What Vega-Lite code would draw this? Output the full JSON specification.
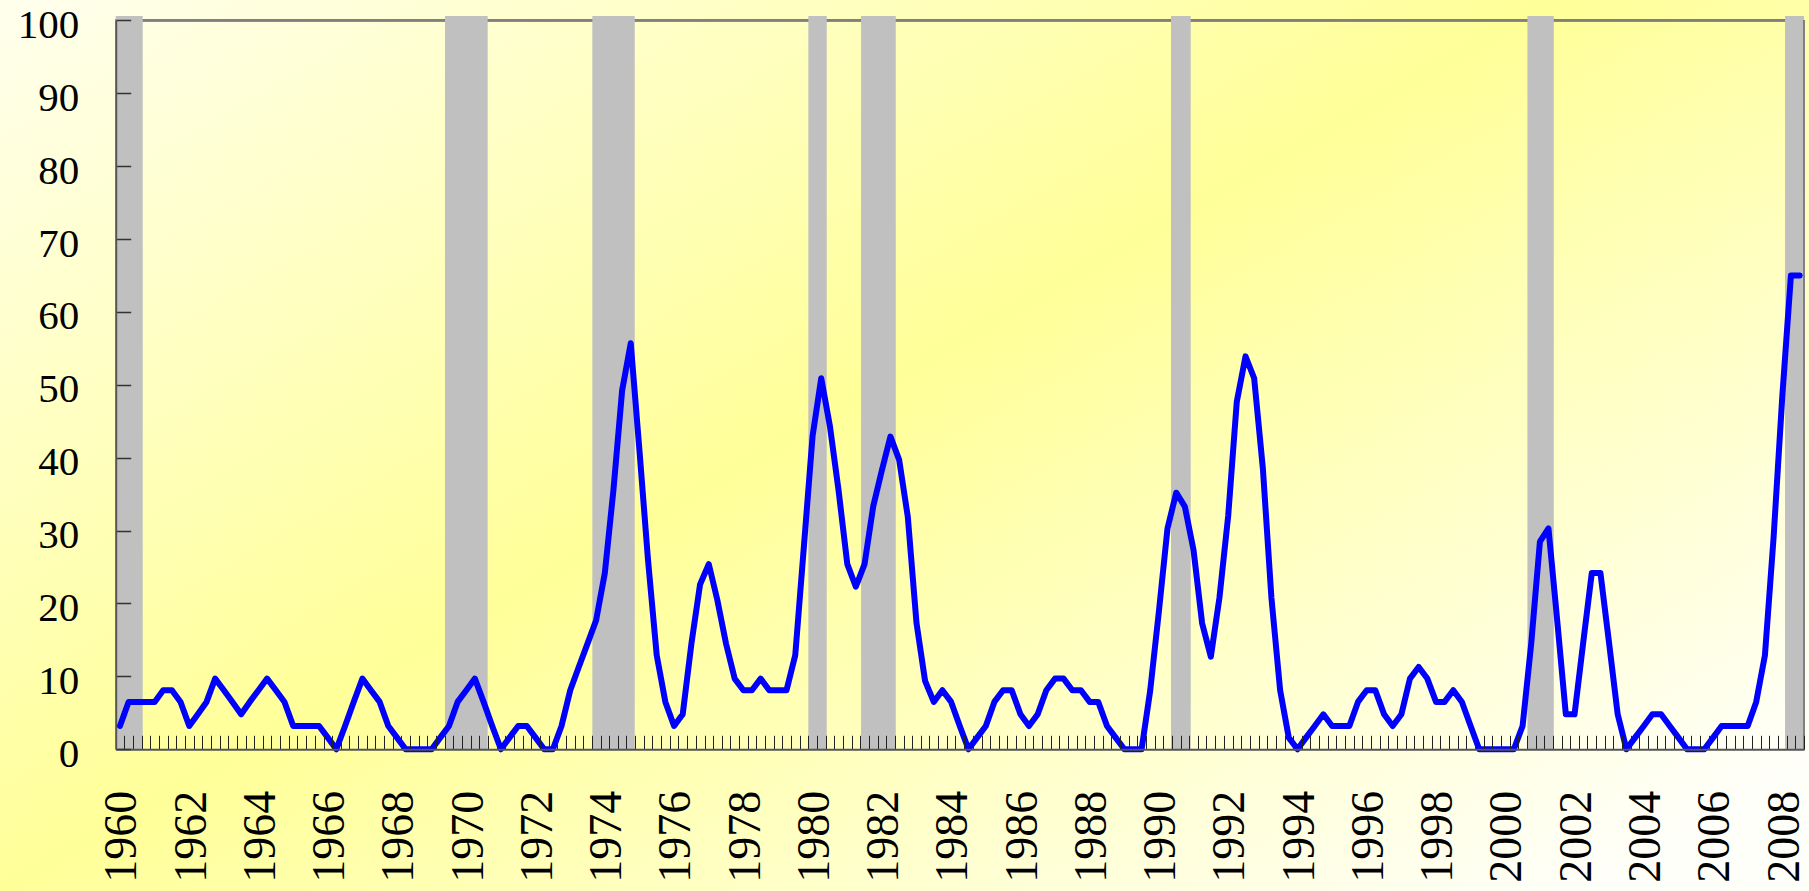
{
  "$schema": "https://vega.github.io/schema/vega-lite/v6.json",
  "width": 1809,
  "height": 891,
  "padding": 0,
  "autosize": {"type": "none"},
  "background": "#FFFFFF",
  "config": {
    "font": "Liberation Serif",
    "view": {
      "stroke": null,
      "fill": {
        "gradient": "linear",
        "x1": 0, "y1": 0, "x2": 1, "y2": 0.86,
        "stops": [
          {"offset": 0, "color": "#FFFFEE"},
          {"offset": 0.494, "color": "#FFFF99"},
          {"offset": 1, "color": "#FFFFFA"}
        ]
      }
    }
  },
  "datasets": {
    "recessions": [
      {"start": "1960-01-01", "end": "1960-10-12"},
      {"start": "1969-07-05", "end": "1970-09-28"},
      {"start": "1973-10-06", "end": "1974-12-27"},
      {"start": "1980-01-01", "end": "1980-07-13"},
      {"start": "1981-07-10", "end": "1982-07-11"},
      {"start": "1990-06-22", "end": "1991-01-16"},
      {"start": "2000-10-06", "end": "2001-07-11"},
      {"start": "2008-03-15", "end": "2008-10-01"}
    ],
    "series": [
      {"date": "1960-02-15", "pct": 3.2}, {"date": "1960-05-16", "pct": 6.5}, {"date": "1960-08-16", "pct": 6.5}, {"date": "1960-11-15", "pct": 6.5},
      {"date": "1961-02-15", "pct": 6.5}, {"date": "1961-05-16", "pct": 8.1}, {"date": "1961-08-16", "pct": 8.1}, {"date": "1961-11-15", "pct": 6.5},
      {"date": "1962-02-15", "pct": 3.2}, {"date": "1962-05-16", "pct": 4.8}, {"date": "1962-08-16", "pct": 6.5}, {"date": "1962-11-15", "pct": 9.7},
      {"date": "1963-02-15", "pct": 8.1}, {"date": "1963-05-16", "pct": 6.5}, {"date": "1963-08-16", "pct": 4.8}, {"date": "1963-11-15", "pct": 6.5},
      {"date": "1964-02-15", "pct": 8.1}, {"date": "1964-05-16", "pct": 9.7}, {"date": "1964-08-16", "pct": 8.1}, {"date": "1964-11-15", "pct": 6.5},
      {"date": "1965-02-15", "pct": 3.2}, {"date": "1965-05-16", "pct": 3.2}, {"date": "1965-08-16", "pct": 3.2}, {"date": "1965-11-15", "pct": 3.2},
      {"date": "1966-02-15", "pct": 1.6}, {"date": "1966-05-16", "pct": 0}, {"date": "1966-08-16", "pct": 3.2}, {"date": "1966-11-15", "pct": 6.5},
      {"date": "1967-02-15", "pct": 9.7}, {"date": "1967-05-16", "pct": 8.1}, {"date": "1967-08-16", "pct": 6.5}, {"date": "1967-11-15", "pct": 3.2},
      {"date": "1968-02-15", "pct": 1.6}, {"date": "1968-05-16", "pct": 0}, {"date": "1968-08-16", "pct": 0}, {"date": "1968-11-15", "pct": 0},
      {"date": "1969-02-15", "pct": 0}, {"date": "1969-05-16", "pct": 1.6}, {"date": "1969-08-16", "pct": 3.2}, {"date": "1969-11-15", "pct": 6.5},
      {"date": "1970-02-15", "pct": 8.1}, {"date": "1970-05-16", "pct": 9.7}, {"date": "1970-08-16", "pct": 6.5}, {"date": "1970-11-15", "pct": 3.2},
      {"date": "1971-02-15", "pct": 0}, {"date": "1971-05-16", "pct": 1.6}, {"date": "1971-08-16", "pct": 3.2}, {"date": "1971-11-15", "pct": 3.2},
      {"date": "1972-02-15", "pct": 1.6}, {"date": "1972-05-16", "pct": 0}, {"date": "1972-08-16", "pct": 0}, {"date": "1972-11-15", "pct": 3.2},
      {"date": "1973-02-15", "pct": 8.1}, {"date": "1973-05-16", "pct": 11.3}, {"date": "1973-08-16", "pct": 14.5}, {"date": "1973-11-15", "pct": 17.7},
      {"date": "1974-02-15", "pct": 24.2}, {"date": "1974-05-16", "pct": 35.5}, {"date": "1974-08-16", "pct": 49.2}, {"date": "1974-11-15", "pct": 55.7},
      {"date": "1975-02-15", "pct": 41.0}, {"date": "1975-05-16", "pct": 26.0}, {"date": "1975-08-16", "pct": 12.9}, {"date": "1975-11-15", "pct": 6.5},
      {"date": "1976-02-15", "pct": 3.2}, {"date": "1976-05-16", "pct": 4.8}, {"date": "1976-08-16", "pct": 14.5}, {"date": "1976-11-15", "pct": 22.6},
      {"date": "1977-02-15", "pct": 25.4}, {"date": "1977-05-16", "pct": 20.5}, {"date": "1977-08-16", "pct": 14.5}, {"date": "1977-11-15", "pct": 9.7},
      {"date": "1978-02-15", "pct": 8.1}, {"date": "1978-05-16", "pct": 8.1}, {"date": "1978-08-16", "pct": 9.7}, {"date": "1978-11-15", "pct": 8.1},
      {"date": "1979-02-15", "pct": 8.1}, {"date": "1979-05-16", "pct": 8.1}, {"date": "1979-08-16", "pct": 12.9}, {"date": "1979-11-15", "pct": 27.8},
      {"date": "1980-02-15", "pct": 43.0}, {"date": "1980-05-16", "pct": 50.9}, {"date": "1980-08-16", "pct": 44.3}, {"date": "1980-11-15", "pct": 35.5},
      {"date": "1981-02-15", "pct": 25.4}, {"date": "1981-05-16", "pct": 22.3}, {"date": "1981-08-16", "pct": 25.4}, {"date": "1981-11-15", "pct": 33.3},
      {"date": "1982-02-15", "pct": 38.3}, {"date": "1982-05-16", "pct": 42.9}, {"date": "1982-08-16", "pct": 39.7}, {"date": "1982-11-15", "pct": 31.9},
      {"date": "1983-02-15", "pct": 17.3}, {"date": "1983-05-16", "pct": 9.4}, {"date": "1983-08-16", "pct": 6.5}, {"date": "1983-11-15", "pct": 8.1},
      {"date": "1984-02-15", "pct": 6.5}, {"date": "1984-05-16", "pct": 3.2}, {"date": "1984-08-16", "pct": 0}, {"date": "1984-11-15", "pct": 1.6},
      {"date": "1985-02-15", "pct": 3.2}, {"date": "1985-05-16", "pct": 6.5}, {"date": "1985-08-16", "pct": 8.1}, {"date": "1985-11-15", "pct": 8.1},
      {"date": "1986-02-15", "pct": 4.8}, {"date": "1986-05-16", "pct": 3.2}, {"date": "1986-08-16", "pct": 4.8}, {"date": "1986-11-15", "pct": 8.1},
      {"date": "1987-02-15", "pct": 9.7}, {"date": "1987-05-16", "pct": 9.7}, {"date": "1987-08-16", "pct": 8.1}, {"date": "1987-11-15", "pct": 8.1},
      {"date": "1988-02-15", "pct": 6.5}, {"date": "1988-05-16", "pct": 6.5}, {"date": "1988-08-16", "pct": 3.2}, {"date": "1988-11-15", "pct": 1.6},
      {"date": "1989-02-15", "pct": 0}, {"date": "1989-05-16", "pct": 0}, {"date": "1989-08-16", "pct": 0}, {"date": "1989-11-15", "pct": 8.1},
      {"date": "1990-02-15", "pct": 19.0}, {"date": "1990-05-16", "pct": 30.3}, {"date": "1990-08-16", "pct": 35.2}, {"date": "1990-11-15", "pct": 33.3},
      {"date": "1991-02-15", "pct": 27.3}, {"date": "1991-05-16", "pct": 17.3}, {"date": "1991-08-16", "pct": 12.7}, {"date": "1991-11-15", "pct": 20.8},
      {"date": "1992-02-15", "pct": 32.0}, {"date": "1992-05-16", "pct": 47.7}, {"date": "1992-08-16", "pct": 53.9}, {"date": "1992-11-15", "pct": 50.9},
      {"date": "1993-02-15", "pct": 38.5}, {"date": "1993-05-16", "pct": 20.8}, {"date": "1993-08-16", "pct": 8.1}, {"date": "1993-11-15", "pct": 1.6},
      {"date": "1994-02-15", "pct": 0}, {"date": "1994-05-16", "pct": 1.6}, {"date": "1994-08-16", "pct": 3.2}, {"date": "1994-11-15", "pct": 4.8},
      {"date": "1995-02-15", "pct": 3.2}, {"date": "1995-05-16", "pct": 3.2}, {"date": "1995-08-16", "pct": 3.2}, {"date": "1995-11-15", "pct": 6.5},
      {"date": "1996-02-15", "pct": 8.1}, {"date": "1996-05-16", "pct": 8.1}, {"date": "1996-08-16", "pct": 4.8}, {"date": "1996-11-15", "pct": 3.2},
      {"date": "1997-02-15", "pct": 4.8}, {"date": "1997-05-16", "pct": 9.7}, {"date": "1997-08-16", "pct": 11.3}, {"date": "1997-11-15", "pct": 9.7},
      {"date": "1998-02-15", "pct": 6.5}, {"date": "1998-05-16", "pct": 6.5}, {"date": "1998-08-16", "pct": 8.1}, {"date": "1998-11-15", "pct": 6.5},
      {"date": "1999-02-15", "pct": 3.2}, {"date": "1999-05-16", "pct": 0}, {"date": "1999-08-16", "pct": 0}, {"date": "1999-11-15", "pct": 0},
      {"date": "2000-02-15", "pct": 0}, {"date": "2000-05-16", "pct": 0}, {"date": "2000-08-16", "pct": 3.2}, {"date": "2000-11-15", "pct": 14.5},
      {"date": "2001-02-15", "pct": 28.5}, {"date": "2001-05-16", "pct": 30.3}, {"date": "2001-08-16", "pct": 17.7}, {"date": "2001-11-15", "pct": 4.8},
      {"date": "2002-02-15", "pct": 4.8}, {"date": "2002-05-16", "pct": 14.5}, {"date": "2002-08-16", "pct": 24.2}, {"date": "2002-11-15", "pct": 24.2},
      {"date": "2003-02-15", "pct": 14.5}, {"date": "2003-05-16", "pct": 4.8}, {"date": "2003-08-16", "pct": 0}, {"date": "2003-11-15", "pct": 1.6},
      {"date": "2004-02-15", "pct": 3.2}, {"date": "2004-05-16", "pct": 4.8}, {"date": "2004-08-16", "pct": 4.8}, {"date": "2004-11-15", "pct": 3.2},
      {"date": "2005-02-15", "pct": 1.6}, {"date": "2005-05-16", "pct": 0}, {"date": "2005-08-16", "pct": 0}, {"date": "2005-11-15", "pct": 0},
      {"date": "2006-02-15", "pct": 1.6}, {"date": "2006-05-16", "pct": 3.2}, {"date": "2006-08-16", "pct": 3.2}, {"date": "2006-11-15", "pct": 3.2},
      {"date": "2007-02-15", "pct": 3.2}, {"date": "2007-05-16", "pct": 6.5}, {"date": "2007-08-16", "pct": 12.9}, {"date": "2007-11-15", "pct": 29.0},
      {"date": "2008-02-15", "pct": 48.4}, {"date": "2008-05-16", "pct": 65.0}, {"date": "2008-08-16", "pct": 65.0}
    ]
  },
  "layer": [
    {
      "data": {"name": "recessions"},
      "mark": {"type": "rule", "color": "#808080", "strokeWidth": 2},
      "encoding": {
        "x": {"datum": {"year": 1960, "month": 1, "date": 1, "utc": true}, "type": "temporal",
              "scale": {"type": "utc", "domain": [{"year": 1960, "month": 1, "date": 1, "utc": true}, {"year": 2008, "month": 10, "date": 1, "utc": true}], "range": [115.7, 1804], "nice": false}},
        "x2": {"datum": {"year": 2008, "month": 10, "date": 1, "utc": true}},
        "y": {"datum": 100, "type": "quantitative", "scale": {"domain": [0, 100], "range": [749.3, 20.3], "nice": false, "zero": false}}
      }
    },
    {
      "data": {"name": "recessions"},
      "mark": {"type": "rect", "color": "#C0C0C0", "opacity": 1},
      "encoding": {
        "x": {"field": "start", "type": "temporal",
              "scale": {"type": "utc", "domain": [{"year": 1960, "month": 1, "date": 1, "utc": true}, {"year": 2008, "month": 10, "date": 1, "utc": true}], "range": [115.7, 1804], "nice": false}},
        "x2": {"field": "end"},
        "y": {"datum": 0, "type": "quantitative", "scale": {"domain": [0, 100], "range": [749.3, 20.3], "nice": false, "zero": false}},
        "y2": {"datum": 100.6}
      }
    },
    {
      "data": {"name": "recessions"},
      "mark": {"type": "rule", "color": "#808080", "strokeWidth": 2},
      "encoding": {
        "x": {"datum": {"year": 2008, "month": 10, "date": 1, "utc": true}, "type": "temporal",
              "scale": {"type": "utc", "domain": [{"year": 1960, "month": 1, "date": 1, "utc": true}, {"year": 2008, "month": 10, "date": 1, "utc": true}], "range": [115.7, 1804], "nice": false}},
        "y": {"datum": 0, "type": "quantitative", "scale": {"domain": [0, 100], "range": [749.3, 20.3], "nice": false, "zero": false}},
        "y2": {"datum": 100}
      }
    },
    {
      "data": {"name": "series"},
      "mark": {"type": "line", "color": "#0000FF", "strokeWidth": 6, "strokeJoin": "round", "strokeCap": "round"},
      "encoding": {
        "x": {
          "field": "date", "type": "temporal",
          "scale": {"type": "utc", "domain": [{"year": 1960, "month": 1, "date": 1, "utc": true}, {"year": 2008, "month": 10, "date": 1, "utc": true}], "range": [115.7, 1804], "nice": false},
          "axis": {
            "title": null, "orient": "bottom", "offset": -141.7,
            "tickCount": {"interval": "month", "step": 3},
            "labelExpr": "(utcmonth(datum.value) == 0 && utcyear(datum.value) % 2 == 0) ? ('' + utcyear(datum.value)) : ''",
            "labelAngle": -90, "labelFont": "Liberation Serif", "labelFontSize": 46, "labelColor": "#000000",
            "labelPadding": 55, "labelOffset": 6, "labelOverlap": false, "labelFlush": false, "labelBound": false,
            "tickSize": -14, "tickColor": "#222222", "tickWidth": 1,
            "domainColor": "#555555", "domainWidth": 2, "grid": false, "zindex": 1
          }
        },
        "y": {
          "field": "pct", "type": "quantitative",
          "scale": {"domain": [0, 100], "range": [749.3, 20.3], "nice": false, "zero": false},
          "axis": {
            "title": null, "orient": "left", "offset": -115.7,
            "values": [0, 10, 20, 30, 40, 50, 60, 70, 80, 90, 100],
            "labelFont": "Liberation Serif", "labelFontSize": 41, "labelColor": "#000000",
            "labelPadding": 52, "labelOffset": 5, "labelOverlap": false, "labelFlush": false, "labelBound": false,
            "tickSize": -15, "tickColor": "#333333", "tickWidth": 1.5,
            "domainColor": "#555555", "domainWidth": 2, "grid": false, "zindex": 1
          }
        }
      }
    }
  ]
}
